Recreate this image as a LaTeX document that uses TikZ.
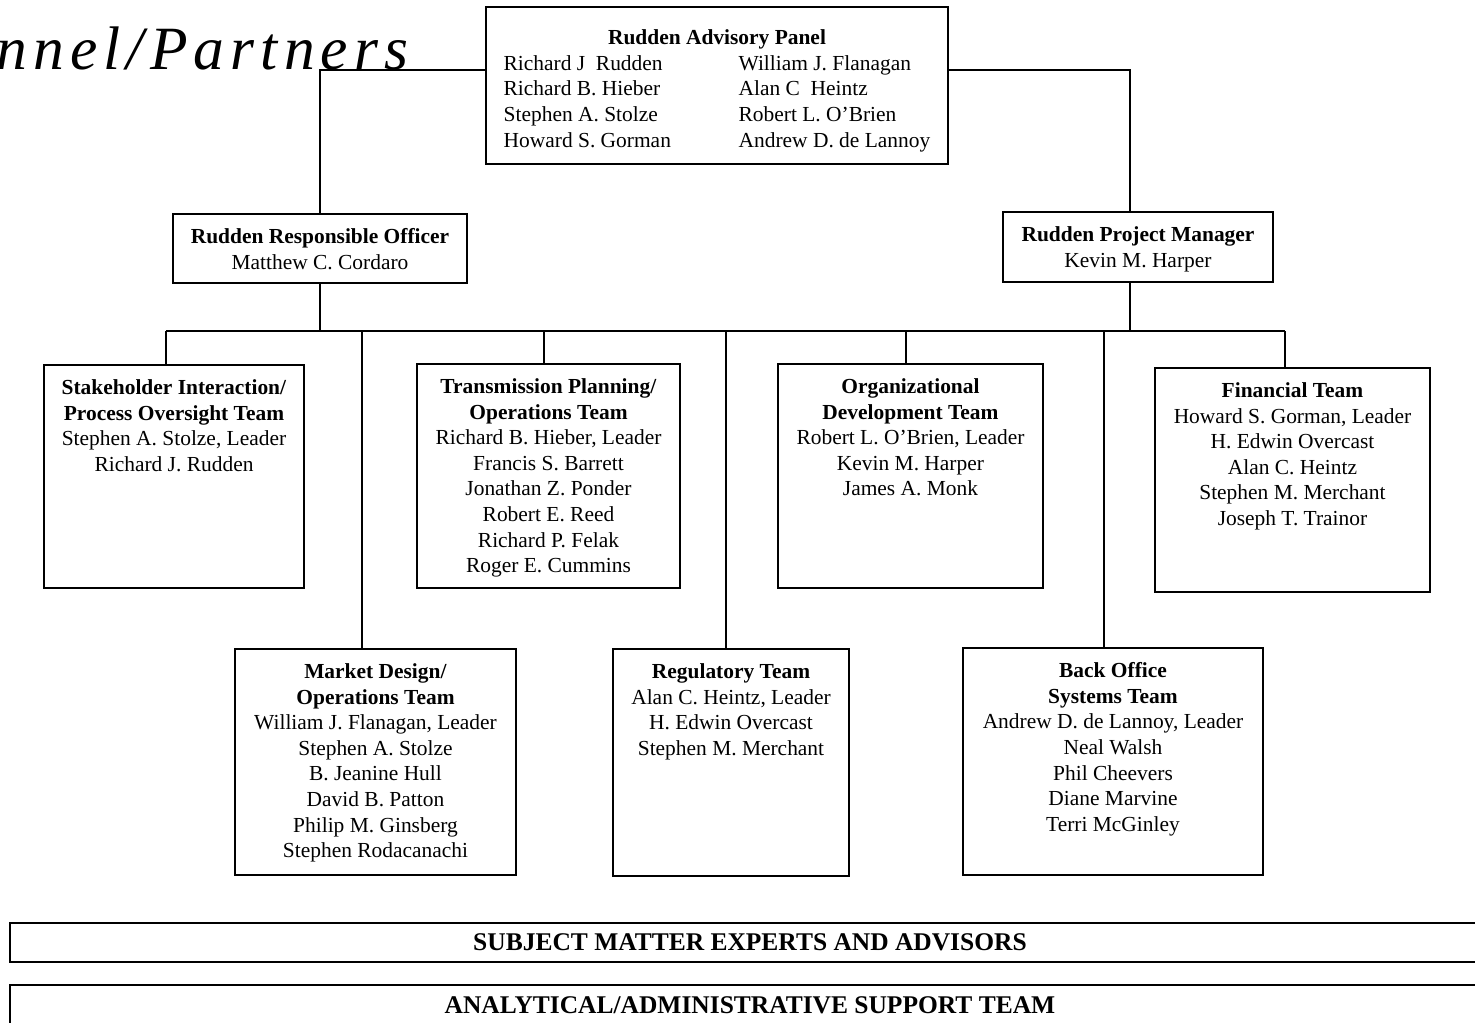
\documentclass[tikz,border=0pt]{standalone}
\usepackage{fontspec}
\setmainfont{Liberation Serif}
\usetikzlibrary{positioning}

\begin{document}
\begin{tikzpicture}[x=0.02cm, y=-0.02cm,
  teambox/.style={draw, line width=1pt, inner sep=0pt},
  teamtext/.style={align=center, inner sep=0pt, anchor=north, font=\fontsize{12.2}{14.6}\selectfont},
  barbox/.style={draw, line width=1.2pt, minimum width=29.6cm, minimum height=0.79cm, inner sep=0pt, font=\fontsize{14.5}{17}\selectfont\bfseries},
  link/.style={line width=0.8pt}]
\useasboundingbox (0,0) rectangle (1475,1022);

% page title, cut at the left
\node[anchor=base west, inner sep=0pt, font=\fontsize{35}{40}\selectfont\itshape\addfontfeature{LetterSpace=10}] (title) at (-4,69) {nnel/Partners};

% top level
\node[teambox, minimum width=9.24cm, minimum height=3.14cm] (panel) at (717,85.5) {};
\node[teamtext, below=0.4cm of panel.north] (paneltext) {\begin{tabular}{@{}p{4.7cm}@{}l@{}}
  \multicolumn{2}{@{}c@{}}{\bfseries Rudden Advisory Panel}\\
  Richard J~ Rudden & William J. Flanagan\\
  Richard B. Hieber & Alan C~ Heintz\\
  Stephen A. Stolze & Robert L. O'Brien\\
  Howard S. Gorman & Andrew D. de Lannoy
\end{tabular}};

\node[teambox, minimum width=5.88cm, minimum height=1.38cm] (officer) at (320,248.5) {};
\node[teamtext, below=0.3cm of officer.north] (officertext) {\textbf{Rudden Responsible Officer}\\Matthew C. Cordaro};
\node[teambox, minimum width=5.4cm, minimum height=1.4cm] (manager) at (1138,247) {};
\node[teamtext, below=0.3cm of manager.north] (managertext) {\textbf{Rudden Project Manager}\\Kevin M. Harper};

% upper row of teams
\node[teambox, minimum width=5.2cm, minimum height=4.46cm] (stake) at (174,476.5) {};
\node[teamtext, below=0.3cm of stake.north] (staketext) {\textbf{Stakeholder Interaction/}\\\textbf{Process Oversight Team}\\Stephen A. Stolze, Leader\\Richard J. Rudden};
\node[teambox, minimum width=5.26cm, minimum height=4.48cm] (trans) at (548.5,476) {};
\node[teamtext, below=0.3cm of trans.north] (transtext) {\textbf{Transmission Planning/}\\\textbf{Operations Team}\\Richard B. Hieber, Leader\\Francis S. Barrett\\Jonathan Z. Ponder\\Robert E. Reed\\Richard P. Felak\\Roger E. Cummins};
\node[teambox, minimum width=5.3cm, minimum height=4.48cm] (orgdev) at (910.5,476) {};
\node[teamtext, below=0.3cm of orgdev.north] (orgdevtext) {\textbf{Organizational}\\\textbf{Development Team}\\Robert L. O'Brien, Leader\\Kevin M. Harper\\James A. Monk};
\node[teambox, minimum width=5.5cm, minimum height=4.48cm] (fin) at (1292.5,480) {};
\node[teamtext, below=0.3cm of fin.north] (fintext) {\textbf{Financial Team}\\Howard S. Gorman, Leader\\H. Edwin Overcast\\Alan C. Heintz\\Stephen M. Merchant\\Joseph T. Trainor};

% lower row of teams
\node[teambox, minimum width=5.62cm, minimum height=4.52cm] (market) at (375.5,762) {};
\node[teamtext, below=0.3cm of market.north] (markettext) {\textbf{Market Design/}\\\textbf{Operations Team}\\William J. Flanagan, Leader\\Stephen A. Stolze\\B. Jeanine Hull\\David B. Patton\\Philip M. Ginsberg\\Stephen Rodacanachi};
\node[teambox, minimum width=4.72cm, minimum height=4.54cm] (reg) at (731,762.5) {};
\node[teamtext, below=0.3cm of reg.north] (regtext) {\textbf{Regulatory Team}\\Alan C. Heintz, Leader\\H. Edwin Overcast\\Stephen M. Merchant};
\node[teambox, minimum width=6cm, minimum height=4.54cm] (back) at (1113,761.5) {};
\node[teamtext, below=0.3cm of back.north] (backtext) {\textbf{Back Office}\\\textbf{Systems Team}\\Andrew D. de Lannoy, Leader\\Neal Walsh\\Phil Cheevers\\Diane Marvine\\Terri McGinley};

% bars at the foot
\node[barbox] (sme) at (750,942.5) {SUBJECT MATTER EXPERTS AND ADVISORS};
\node[barbox] (ana) at (750,1005) {ANALYTICAL/ADMINISTRATIVE SUPPORT TEAM};

% lines
\draw[link] ([yshift=0.31cm]panel.west) -| (officer.north);
\draw[link] ([yshift=0.31cm]panel.east) -| ([xshift=-0.16cm]manager.north);

\coordinate (j1) at (166,331);
\coordinate (j2) at (362,331);
\coordinate (j3) at (544,331);
\coordinate (j4) at (726,331);
\coordinate (j5) at (906,331);
\coordinate (j6) at (1104,331);
\coordinate (j7) at (1285,331);
\draw[link] (j1) -- (j7);
\draw[link] (officer.south) -- (officer.south |- j1);
\draw[link] ([xshift=-0.16cm]manager.south) |- (j7);

\draw[link] (j1) -- (j1 |- stake.north);
\draw[link] (j2) -- (j2 |- market.north);
\draw[link] (j3) -- (j3 |- trans.north);
\draw[link] (j4) -- (j4 |- reg.north);
\draw[link] (j5) -- (j5 |- orgdev.north);
\draw[link] (j6) -- (j6 |- back.north);
\draw[link] (j7) -- (j7 |- fin.north);
\end{tikzpicture}
\end{document}
